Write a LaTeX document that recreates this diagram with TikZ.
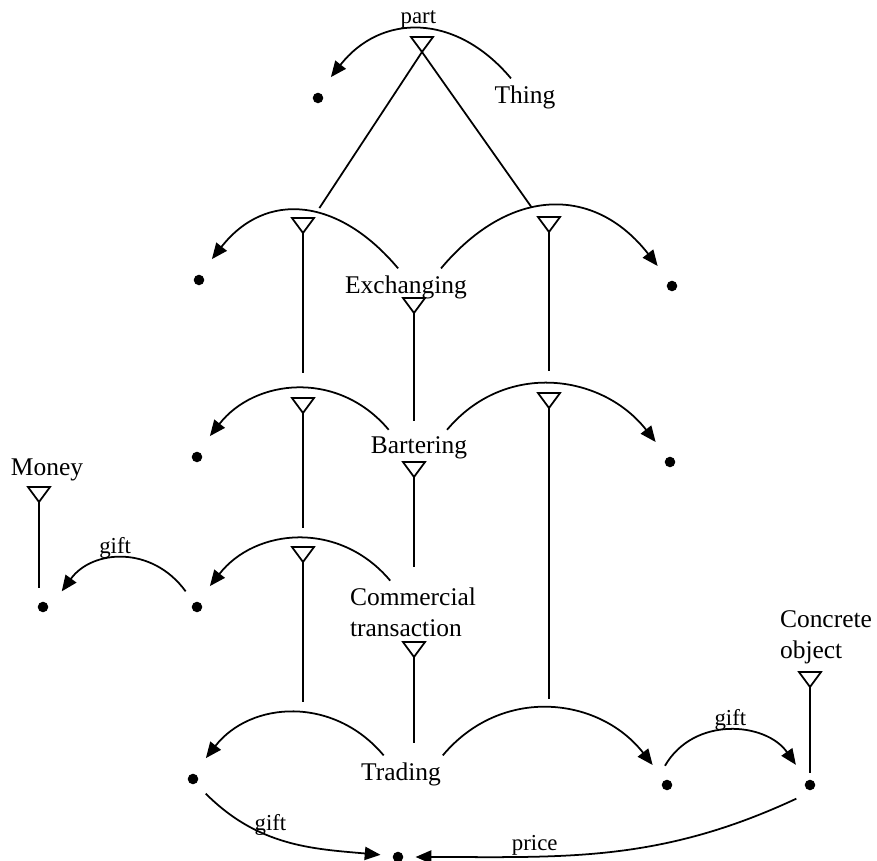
\documentclass[tikz,border=0pt]{standalone}
\usepackage{fontspec}
\setmainfont{Liberation Serif}
\usetikzlibrary{shapes.geometric,arrows.meta}
\begin{document}
\begin{tikzpicture}[x=0.02cm, y=0.02cm, line width=1pt,
    concept/.style={inner sep=0pt, outer sep=4pt, font=\fontsize{14.5}{17.5}\selectfont},
    lbl/.style={inner sep=0pt, font=\fontsize{13}{15}\selectfont},
    dot/.style={circle, fill, minimum size=6pt, inner sep=0pt, outer sep=8pt},
    tri/.style={draw, isosceles triangle, isosceles triangle stretches, shape border rotate=270,
                minimum width=12.5pt, minimum height=8.5pt, inner sep=0pt, outer sep=0pt, anchor=apex},
    rel/.style={-{Triangle[length=9pt,width=7.5pt]}, shorten >=3pt}]

    \useasboundingbox (0,0) rectangle (877,-861);

    \node [concept] (thing) at (525,-97) {Thing};
    \node [concept] (exch) at (406,-287) {Exchanging};
    \node [concept] (barter) at (419,-448) {Bartering};
    \node [concept, align=left, anchor=west] (commerce) at (343,-612) {Commercial\\transaction};
    \node [concept] (trading) at (401,-774) {Trading};
    \node [concept] (money) at (47,-470) {Money};
    \node [concept, align=left, anchor=west] (concrete) at (773,-637) {Concrete\\object};

    \node [tri] (tThing) at (422,-52) {};
    \node [tri] (tExL) at (303,-233) {};
    \node [tri] (tExR) at (549,-232) {};
    \node [tri] (tExch) at (414,-313) {};
    \node [tri] (tBaL) at (303,-413) {};
    \node [tri] (tBaR) at (549,-408) {};
    \node [tri] (tBarter) at (414,-477) {};
    \node [tri] (tCoL) at (303,-562) {};
    \node [tri] (tCommerce) at (414,-657) {};
    \node [tri] (tMoney) at (39,-502) {};
    \node [tri] (tConcrete) at (810,-687) {};

    \node [dot] (dThing) at (318,-98) {};
    \node [dot] (dExL) at (199,-280) {};
    \node [dot] (dExR) at (672,-286) {};
    \node [dot] (dBaL) at (197,-457) {};
    \node [dot] (dBaR) at (670,-462) {};
    \node [dot] (dCoL) at (197,-607) {};
    \node [dot] (dMoney) at (43,-607) {};
    \node [dot] (dTrL) at (193,-779) {};
    \node [dot] (dTrR) at (667,-785) {};
    \node [dot] (dConcrete) at (810,-785) {};
    \node [dot, outer sep=4pt] (dPrice) at (398,-857) {};

    \coordinate (trLtop) at (303,-702);
    \coordinate (trRtop) at (549,-699);

    \draw [shorten >=17pt] (tThing.apex) -- (tExL.apex);
    \draw [shorten >=17pt] (tThing.apex) -- (tExR.apex);
    \draw [shorten >=14pt] (tExL.apex) -- (tExL.apex |- tBaL.left corner);
    \draw [shorten >=11pt] (tBaL.apex) -- (tBaL.apex |- tCoL.left corner);
    \draw (tCoL.apex) -- (trLtop);
    \draw [shorten >=12.5pt] (tExR.apex) -- (tExR.apex |- tBaR.left corner);
    \draw (tBaR.apex) -- (trRtop);
    \draw [shorten >=5pt] (tExch.apex) -- (tExch.apex |- barter.north);
    \draw [shorten >=8pt] (tBarter.apex) -- (tBarter.apex |- commerce.north);
    \draw [shorten >=7pt] (tCommerce.apex) -- (tCommerce.apex |- trading.north);
    \draw (tMoney.apex) -- (tMoney.apex |- dMoney.north);
    \draw [shorten >=7pt] (tConcrete.apex) -- (dConcrete.center);

    \draw [rel] (thing.127) to[out=130, in=52, looseness=1.2] node[lbl, above] {part} (dThing.60);
    \draw [rel] (exch.113) to[out=130, in=52, looseness=1.25] (dExL.60);
    \draw [rel] (exch.28) to[out=50, in=128, looseness=1.25] (dExR.125);
    \draw [rel] (barter.149) to[out=130, in=52, looseness=1.1] (dBaL.60);
    \draw [rel] (barter.33) to[out=50, in=128, looseness=1.1] (dBaR.125);
    \draw [rel] (commerce.126) to[out=130, in=52, looseness=1.1] (dCoL.60);
    \draw [rel] (dCoL.126) to[out=126, in=54, looseness=1.15] node[lbl, above, pos=0.55] {gift} (dMoney.36);
    \draw [rel] (trading.133) to[out=130, in=52, looseness=1.1] (dTrL.60);
    \draw [rel] (trading.24) to[out=50, in=128, looseness=1.1] (dTrR.125);
    \draw [rel] (dTrR.96) to[out=60, in=125, looseness=1.1] node[lbl, above] {gift} (dConcrete.125);
    \draw [rel] (dTrL.-49) to[out=-45, in=175] node[lbl, above, pos=0.4] {gift} (dPrice.172);
    \draw [rel] (dConcrete.225) to[out=205, in=0] node[lbl, above, pos=0.7] {price} (dPrice.0);

\end{tikzpicture}
\end{document}
